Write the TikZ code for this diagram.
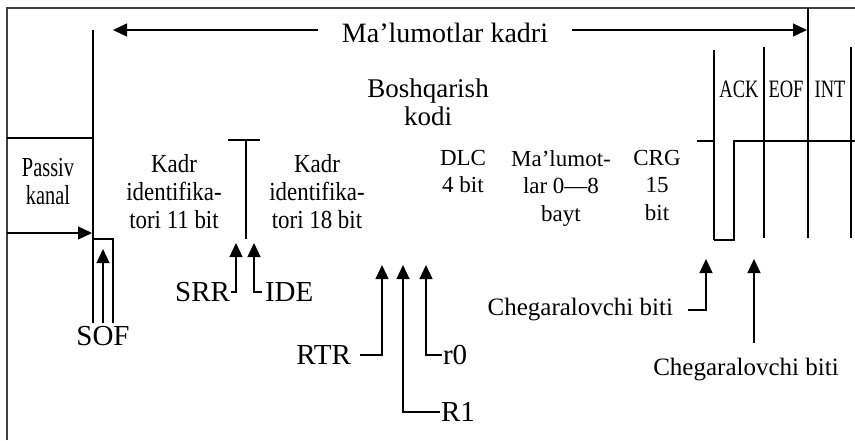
\documentclass[tikz,border=0pt]{standalone}
\usepackage{fontspec}
\setmainfont{Liberation Serif}
\newfontfamily\narrowfont{Liberation Serif}[FakeStretch=0.88]
\newfontfamily\slimfont{Liberation Serif}[FakeStretch=0.74]
\usetikzlibrary{arrows.meta,positioning}

\tikzset{
  wire/.style={line width=1.2pt},
  pin/.style={wire,-{Triangle[length=14pt,width=13pt]}},
  frame/.style={line width=2.2pt,black!75},
  lbl/.style={inner sep=0pt,font=\fontsize{29}{29}\selectfont},
  cheg/.style={inner sep=0pt,font=\fontsize{25}{25}\selectfont},
  field/.style={inner sep=0pt,align=center,anchor=north,font=\fontsize{23}{27.5}\selectfont},
  idfield/.style={inner sep=0pt,align=center,anchor=north,font=\narrowfont\fontsize{26}{28}\selectfont},
  slot/.style={inner sep=0pt,anchor=base,font=\slimfont\fontsize{25}{25}\selectfont}
}

\begin{document}
\begin{tikzpicture}[x=1pt,y=-1pt]
	\useasboundingbox (0,0) rectangle (855,440);

	% arrow tips and corners
	\coordinate (lftT) at (113,30);
	\coordinate (rgtT) at (807,30);
	\coordinate (pasA) at (7,233);
	\coordinate (pasT) at (92,233);
	\coordinate (sofB) at (103,323);
	\coordinate (sofT) at (103,249);
	\coordinate (srrC) at (231,292);
	\coordinate (srrT) at (236,243);
	\coordinate (ideC) at (262,292);
	\coordinate (ideT) at (254,243);
	\coordinate (rtrC) at (360,355);
	\coordinate (rtrT) at (382,265);
	\coordinate (r1C) at (440,412);
	\coordinate (r1T) at (403,265);
	\coordinate (r0C) at (442,355);
	\coordinate (r0T) at (426,265);
	\coordinate (chegC) at (688,310);
	\coordinate (chegT) at (706,259);
	\coordinate (cheg2B) at (754,343);
	\coordinate (cheg2T) at (754,259);

	% frame
	\draw[frame] (7,440) -- (7,8) -- (855,8);

	% Draw vertical lines
	\draw[wire] (93,30) -- (93,323);
	\draw[wire] (714,50) -- (714,240);
	\draw[wire] (764,47) -- (764,238);
	\draw[wire] (808,8) -- (808,238);
	\draw[wire] (851,47) -- (851,238);

	% Draw horizontal lines
	\draw[wire] (7,138) -- (93,138);
	\draw[wire] (93,239) -- (113,239) -- (113,323);
	\draw[wire] (228,140) -- (260,140) (246,140) -- (246,239);
	\draw[wire] (697,141) -- (714,141);
	\draw[wire] (714,240) -- (734,240) -- (734,141) -- (855,141);

	% fields
	\node[inner sep=0pt,outer xsep=24pt,text height=24pt,text depth=0pt,
		font=\fontsize{28}{28}\selectfont] (kadr) at (445,30) {Ma’lumotlar kadri};
	\node[idfield,font=\slimfont\fontsize{27.5}{28}\selectfont] (passiv) at (48,158) {Passiv\\kanal};
	\node[idfield] (id11) at (174,154) {Kadr\\identifika-\\tori 11 bit};
	\node[idfield] (id18) at (317,154) {Kadr\\identifika-\\tori 18 bit};
	\node[field,font=\fontsize{27}{28}\selectfont] (bosh) at (428,79) {Boshqarish\\kodi};
	\node[field] (dlc) at (463,150) {DLC\\4 bit};
	\node[field] (data) at (561,150) {Ma’lumot-\\lar 0—8\\bayt};
	\node[field] (crg) at (657,150) {CRG\\15\\bit};
	\node[slot] (ack) at (739,97) {ACK};
	\node[slot] (eof) at (786,97) {EOF};
	\node[slot] (int) at (830,97) {INT};

	% labels
	\node[lbl,below=0pt of sofB,outer ysep=3pt] (sof) {SOF};
	\node[lbl,left=0pt of srrC,outer xsep=1pt] (srr) {SRR};
	\node[lbl,right=0pt of ideC,outer xsep=3pt] (ide) {IDE};
	\node[lbl,left=0pt of rtrC,outer xsep=9pt] (rtr) {RTR};
	\node[lbl,right=0pt of r1C,outer xsep=1pt] (r1) {R1};
	\node[lbl,right=0pt of r0C,outer xsep=1pt] (r0) {r0};
	\node[cheg,left=0pt of chegC,outer xsep=15pt] (cheg) {Chegaralovchi biti};
	\node[cheg,below=0pt of cheg2B,xshift=-8pt,outer ysep=15pt] (cheg2) {Chegaralovchi biti};

	% arrows
	\draw[pin] (kadr.west) -- (lftT);
	\draw[pin] (kadr.east) -- (rgtT);
	\draw[pin] (pasA) -- (pasT);
	\draw[pin] (sof.north) -- (sofT);
	\draw[pin] (srr.east) -| (srrT);
	\draw[pin] (ide.west) -| (ideT);
	\draw[pin] (rtr.east) -| (rtrT);
	\draw[pin] (r1.west) -| (r1T);
	\draw[pin] (r0.west) -| (r0T);
	\draw[pin] (cheg.east) -| (chegT);
	\draw[pin] (cheg2.north -| cheg2T) -- (cheg2T);
\end{tikzpicture}
\end{document}
